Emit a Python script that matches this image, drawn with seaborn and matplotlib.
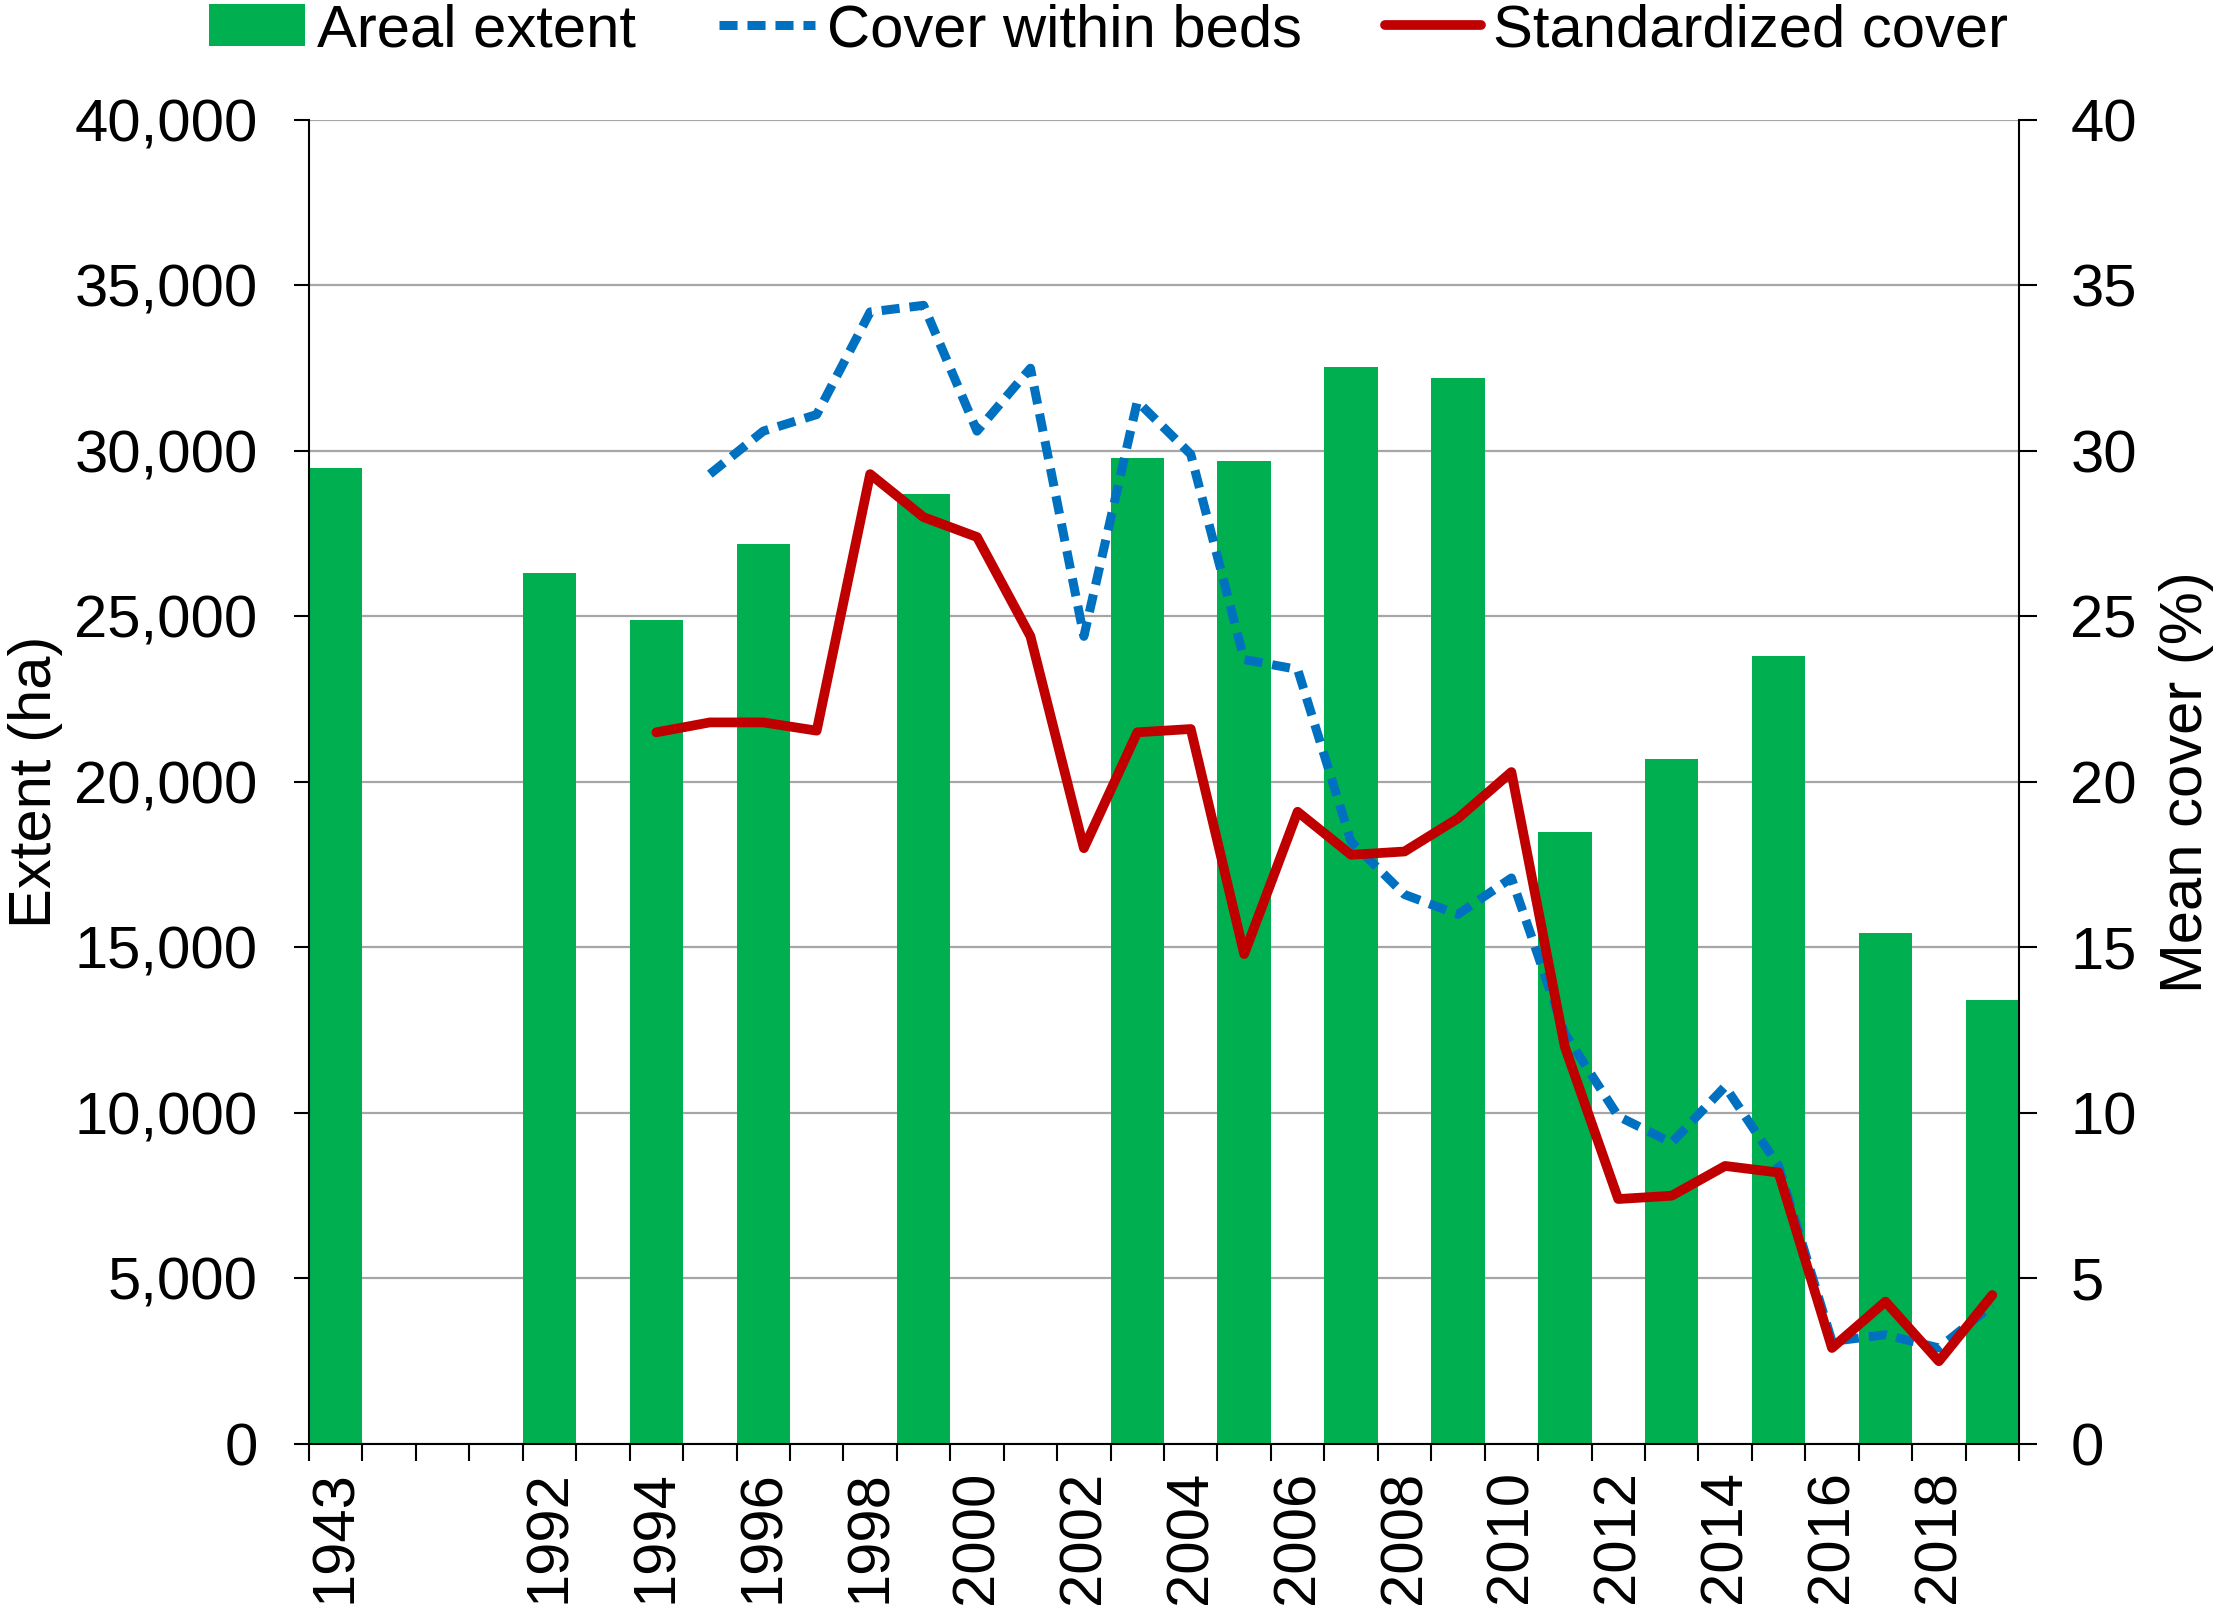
import numpy as np
import pandas as pd
import matplotlib
matplotlib.use("Agg")
import matplotlib.pyplot as plt
import matplotlib.ticker as mticker
import seaborn as sns

# category slots on the x axis: 1943, three empty gap slots, then 1992-2019
slot_labels = ["1943", "gap1", "gap2", "gap3"] + [str(y) for y in range(1992, 2020)]
tick_years = ["1943"] + [str(y) for y in range(1992, 2019, 2)]

# Areal extent (ha)
bar_years = ["1943", "1992", "1994", "1996", "1999", "2003", "2005", "2007",
             "2009", "2011", "2013", "2015", "2017", "2019"]
areal_extent = [29500, 26300, 24900, 27200, 28700, 29800, 29700, 32550,
                32200, 18500, 20700, 23800, 15450, 13400]

# Cover within beds (%)
bed_years = [str(y) for y in range(1995, 2020)]
cover_within_beds = [29.3, 30.6, 31.1, 34.2, 34.4, 30.6, 32.5, 24.4, 31.5, 29.9,
                     23.7, 23.4, 18.2, 16.6, 16.0, 17.1, 12.4, 9.9, 9.1, 10.8,
                     8.4, 3.1, 3.3, 2.9, 4.2]

# Standardized cover (%)
std_years = [str(y) for y in range(1994, 2020)]
standardized_cover = [21.5, 21.8, 21.8, 21.55, 29.3, 28.0, 27.4, 24.4, 18.0, 21.5,
                      21.6, 14.8, 19.1, 17.8, 17.9, 18.9, 20.3, 12.0, 7.4, 7.5,
                      8.4, 8.2, 2.9, 4.3, 2.5, 4.5]

GREEN = "#00B050"
BLUE = "#0070C0"
RED = "#C00000"
GRID = "#A6A6A6"
FS = 43

sns.set_theme(style="white")
plt.rcParams["font.family"] = ["Liberation Sans", "DejaVu Sans"]
plt.rcParams["text.color"] = "black"
plt.rcParams["axes.labelcolor"] = "black"
plt.rcParams["xtick.color"] = "black"
plt.rcParams["ytick.color"] = "black"

fig = plt.figure(figsize=(22.17, 16.17), dpi=100)
ax = fig.add_axes([0.1394, 0.107, 0.7713, 0.8188])

# bars on the category axis
bars = pd.DataFrame({"year": bar_years, "extent": areal_extent})
sns.barplot(data=bars, x="year", y="extent", order=slot_labels, color=GREEN,
            saturation=1, width=1.0, linewidth=0, ax=ax, label="Areal extent",
            zorder=2)

# lines on the twin axis, placed at the same slot positions
pos = {lab: i for i, lab in enumerate(slot_labels)}
ax2 = ax.twinx()
beds = pd.DataFrame({"x": [pos[y] for y in bed_years], "cover": cover_within_beds})
std = pd.DataFrame({"x": [pos[y] for y in std_years], "cover": standardized_cover})
sns.lineplot(data=beds, x="x", y="cover", ax=ax2, color=BLUE, linewidth=6.5,
             linestyle=(0, (2.0, 1.1)), label="Cover within beds", legend=False)
sns.lineplot(data=std, x="x", y="cover", ax=ax2, color=RED, linewidth=7,
             solid_joinstyle="round", label="Standardized cover", legend=False)

# x axis: labels centred on slots, tick marks on slot boundaries
ax.set_xlim(-0.5, len(slot_labels) - 0.5)
ax.set_xticks([pos[y] for y in tick_years])
ax.set_xticklabels(tick_years, rotation=90, fontsize=FS)
ax.set_xticks(np.arange(-0.5, len(slot_labels)), minor=True)
ax.tick_params(axis="x", which="major", length=0, pad=19)
ax.tick_params(axis="x", which="minor", length=12, width=1.5, color="black",
               direction="out", bottom=True)
ax.set_xlabel("")

# left y axis
ax.set_ylim(0, 40000)
ax.set_yticks(range(0, 40001, 5000))
ax.yaxis.set_major_formatter(mticker.StrMethodFormatter("{x:,.0f}"))
ax.tick_params(axis="y", labelsize=FS, length=11, width=1.5, color="black",
               direction="out", left=True, pad=26)
ax.set_ylabel("Extent (ha)", fontsize=FS, labelpad=8)
ax.yaxis.grid(True, color=GRID, linewidth=1.6)
ax.xaxis.grid(False)
ax.set_axisbelow(True)

# right y axis
ax2.set_ylim(0, 40)
ax2.set_yticks(range(0, 41, 5))
ax2.tick_params(axis="y", labelsize=FS, length=13, width=1.5, color="black",
                direction="out", right=True, pad=24)
ax2.set_ylabel("Mean cover (%)", fontsize=FS, labelpad=16)
ax2.grid(False)

for s in ["top", "right"]:
    ax.spines[s].set_visible(False)
for s in ["left", "bottom"]:
    ax.spines[s].set_color("black")
    ax.spines[s].set_linewidth(1.5)
for s in ["top", "left", "bottom"]:
    ax2.spines[s].set_visible(False)
ax2.spines["right"].set_color("black")
ax2.spines["right"].set_linewidth(1.5)

for a in (ax, ax2):
    if a.get_legend() is not None:
        a.get_legend().remove()

h1, l1 = ax.get_legend_handles_labels()
h2, l2 = ax2.get_legend_handles_labels()
fig.legend(h1 + h2, l1 + l2, loc="center", bbox_to_anchor=(0.5, 0.981),
           ncol=3, frameon=False, fontsize=FS, handlelength=1.6,
           handletextpad=0.2, columnspacing=1.4, borderaxespad=0)

fig.savefig("out.png", dpi=100)
